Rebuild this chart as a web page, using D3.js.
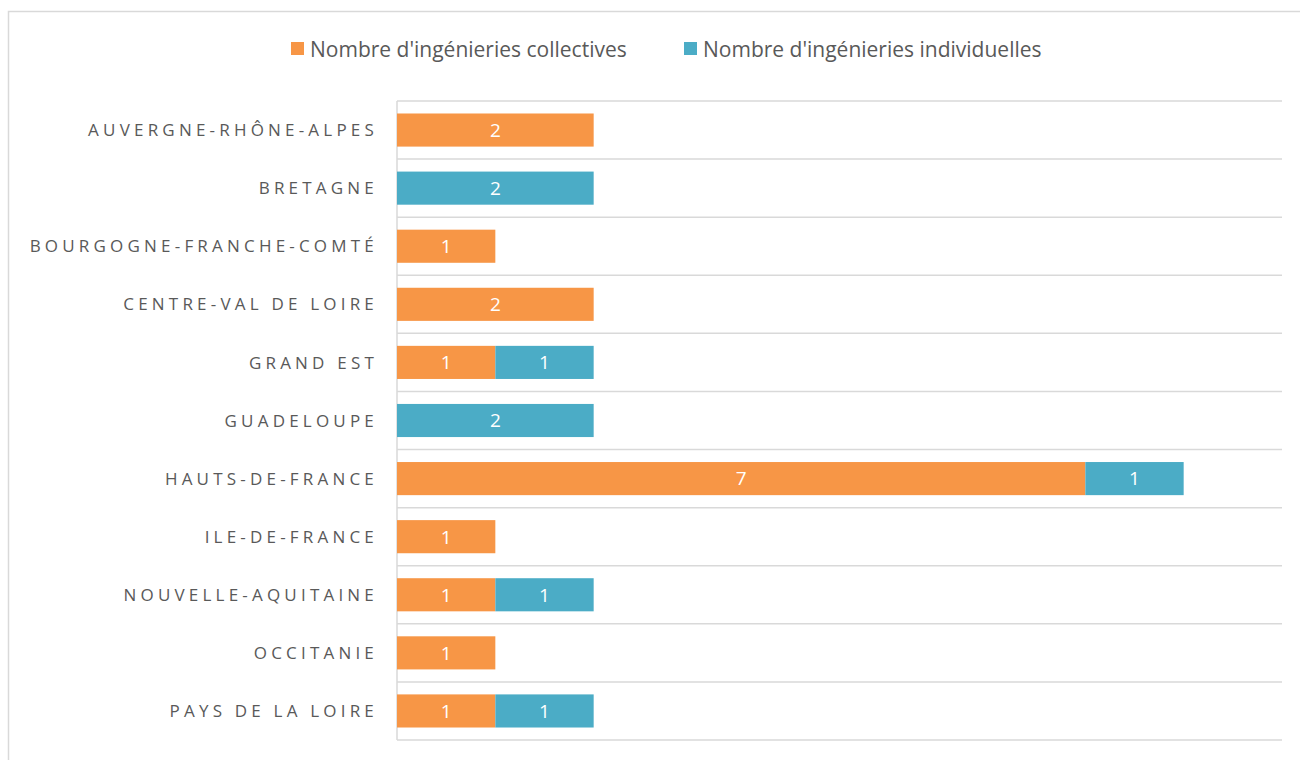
<!DOCTYPE html>
<html>
<head>
<meta charset="utf-8">
<script src="https://cdn.jsdelivr.net/npm/d3@7"></script>
<style>
  body { margin: 0; background: #fff; }
  text { font-family: "Open Sans", "Noto Sans", sans-serif; }
</style>
</head>
<body>
<div class="chart"></div>
<script>
const regions = ["AUVERGNE-RHÔNE-ALPES", "BRETAGNE", "BOURGOGNE-FRANCHE-COMTÉ", "CENTRE-VAL DE LOIRE",
  "GRAND EST", "GUADELOUPE", "HAUTS-DE-FRANCE", "ILE-DE-FRANCE", "NOUVELLE-AQUITAINE",
  "OCCITANIE", "PAYS DE LA LOIRE"];
const collectives = [2, 0, 1, 2, 1, 0, 7, 1, 1, 1, 1];
const individuelles = [0, 2, 0, 0, 1, 2, 1, 0, 1, 0, 1];
const seriesNames = ["Nombre d'ingénieries collectives", "Nombre d'ingénieries individuelles"];
const colors = ["#F79646", "#4BACC6"];

function main(){
    const svg = d3.select('.chart')
                    .append('svg')
                    .attr("width", 1300)
                    .attr("height", 760);

    // chart frame
    svg.append("rect")
        .attr("x", 8.5).attr("y", 11.5)
        .attr("width", 1300).attr("height", 760)
        .attr("fill", "none")
        .attr("stroke", "#d9d9d9")
        .attr("stroke-width", 1.5);

    const rows = regions.map((r, i) => ({region: r, c: collectives[i], ind: individuelles[i]}));

    const left = 397, right = 1282, top = 101, bottom = 740;

    const xScale = d3.scaleLinear().domain([0, 9]).range([left, right]);
    const yScale = d3.scaleBand().domain(regions).range([top, bottom]).paddingInner(0.43).paddingOuter(0.215);

    // horizontal gridlines between categories
    const step = (bottom - top) / regions.length;
    svg.selectAll(".grid")
        .data(d3.range(regions.length + 1))
        .enter()
        .append("line")
        .attr("x1", left).attr("x2", right)
        .attr("y1", d => top + d * step)
        .attr("y2", d => top + d * step)
        .attr("stroke", "#d9d9d9")
        .attr("stroke-width", 1.5);

    svg.append("line")
        .attr("x1", left).attr("x2", left)
        .attr("y1", top).attr("y2", bottom)
        .attr("stroke", "#d9d9d9")
        .attr("stroke-width", 1.5);

    const stack = d3.stack().keys(["c", "ind"])(rows);

    const g = svg.selectAll(".series")
        .data(stack)
        .enter()
        .append("g")
        .attr("fill", (d, i) => colors[i]);

    g.selectAll("rect")
        .data(d => d.filter(p => p[1] > p[0]))
        .enter()
        .append("rect")
        .attr("x", d => xScale(d[0]))
        .attr("y", d => yScale(d.data.region))
        .attr("width", d => xScale(d[1]) - xScale(d[0]))
        .attr("height", yScale.bandwidth());

    g.selectAll("text")
        .data(d => d.filter(p => p[1] > p[0]))
        .enter()
        .append("text")
        .attr("x", d => (xScale(d[0]) + xScale(d[1])) / 2)
        .attr("y", d => yScale(d.data.region) + yScale.bandwidth() / 2)
        .attr("dy", "0.36em")
        .attr("text-anchor", "middle")
        .attr("fill", "#ffffff")
        .style("font-size", "19px")
        .text(d => d[1] - d[0]);

    // category labels
    svg.selectAll(".cat")
        .data(regions)
        .enter()
        .append("text")
        .attr("x", 378)
        .attr("y", d => yScale(d) + yScale.bandwidth() / 2)
        .attr("dy", "0.36em")
        .attr("text-anchor", "end")
        .attr("fill", "#595959")
        .style("font-size", "17px")
        .style("letter-spacing", "4.2px")
        .text(d => d);

    // legend
    const legendX = [291, 684];
    const lg = svg.selectAll(".legend")
        .data(seriesNames)
        .enter()
        .append("g")
        .attr("transform", (d, i) => `translate(${legendX[i]},42)`);
    lg.append("rect")
        .attr("width", 13).attr("height", 13)
        .attr("fill", (d, i) => colors[i]);
    lg.append("text")
        .attr("x", 19)
        .attr("y", 7)
        .attr("dy", "0.36em")
        .attr("fill", "#595959")
        .style("font-size", "21px")
        .text(d => d);
}

main();
</script>
</body>
</html>
